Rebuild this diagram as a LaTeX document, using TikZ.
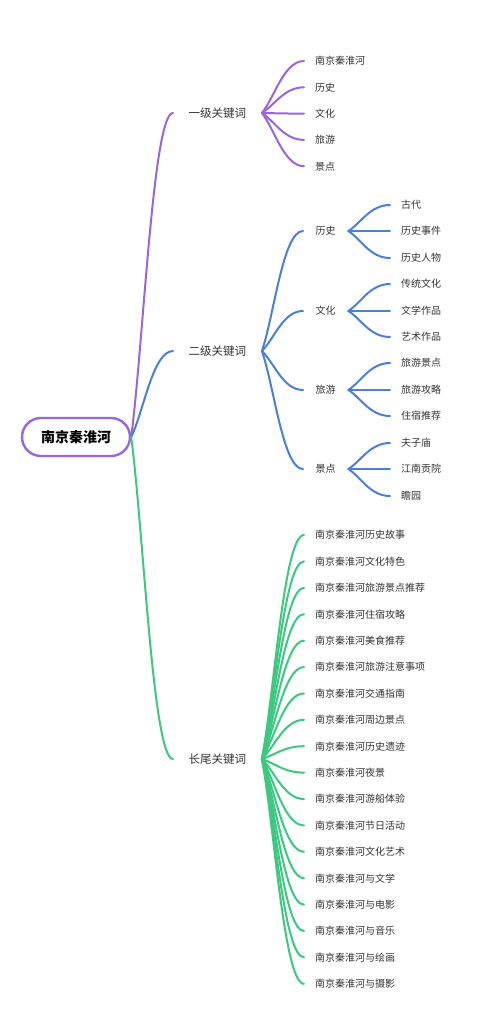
\documentclass[tikz,border=0pt]{standalone}
\usepackage{fontspec}
\setmainfont{Noto Sans CJK SC}
\usetikzlibrary{calc}
\definecolor{cpur}{HTML}{9966E0}
\definecolor{cblu}{HTML}{4A80D8}
\definecolor{cgrn}{HTML}{3CC880}
\definecolor{ctxt}{HTML}{333333}
\newcommand\branchto[3]{\draw[#1] (#2) .. controls ($(#2)!0.3!(#3)$) and ($(#3)+(-20,0)$) .. (#3);}
\begin{document}
\begin{tikzpicture}[x=1pt,y=-1pt,
  rootbox/.style={draw=cpur, line width=2.4pt, fill=white, rounded corners=19pt,
    minimum width=108pt, minimum height=38pt, font=\fontsize{14}{16}\selectfont\bfseries, text=black},
  lone/.style={anchor=west, inner xsep=15.5pt, inner ysep=2pt, font=\fontsize{11.5}{13}\selectfont, text=ctxt},
  mid/.style={anchor=west, inner xsep=12.5pt, inner ysep=2pt, font=\fontsize{10}{12}\selectfont, text=ctxt},
  leaf/.style={anchor=west, inner xsep=11pt, inner ysep=2pt, font=\fontsize{10}{12}\selectfont, text=ctxt},
  pline/.style={draw=cpur, line width=2pt, line cap=round},
  bline/.style={draw=cblu, line width=2pt, line cap=round},
  gline/.style={draw=cgrn, line width=2pt, line cap=round}]
\useasboundingbox[fill=white] (0,0) rectangle (500,1020);

\node[rootbox] (root) at (76,437) {南京秦淮河};

\node[lone] (l1) at (173,113) {一级关键词};
\node[lone] (l2) at (173,351) {二级关键词};
\node[lone] (l3) at (173,759) {长尾关键词};
\branchto{pline}{root.east}{l1.west}
\branchto{bline}{root.east}{l2.west}
\branchto{gline}{root.east}{l3.west}

% level one children
\foreach \t [count=\i from 0] in {南京秦淮河,历史,文化,旅游,景点}{
  \node[leaf] (a\i) at (304,{61+\i*26.3}) {\t};
  \branchto{pline}{l1.east}{a\i.west}
}

% level two
\node[mid] (b1) at (303,231) {历史};
\node[mid] (b2) at (303,311) {文化};
\node[mid] (b3) at (303,390) {旅游};
\node[mid] (b4) at (303,469) {景点};
\foreach \k in {1,2,3,4}{\branchto{bline}{l2.east}{b\k.west}}

\node[leaf] (c11) at (390,205) {古代};
\node[leaf] (c12) at (390,231) {历史事件};
\node[leaf] (c13) at (390,258) {历史人物};
\node[leaf] (c21) at (390,284) {传统文化};
\node[leaf] (c22) at (390,311) {文学作品};
\node[leaf] (c23) at (390,337) {艺术作品};
\node[leaf] (c31) at (390,363) {旅游景点};
\node[leaf] (c32) at (390,390) {旅游攻略};
\node[leaf] (c33) at (390,416) {住宿推荐};
\node[leaf] (c41) at (390,443) {夫子庙};
\node[leaf] (c42) at (390,469) {江南贡院};
\node[leaf] (c43) at (390,496) {瞻园};
\foreach \k in {1,2,3,4}{
  \foreach \j in {1,2,3}{\branchto{bline}{b\k.east}{c\k\j.west}}
}

% long tail
\foreach \t [count=\i from 0] in {南京秦淮河历史故事,南京秦淮河文化特色,南京秦淮河旅游景点推荐,南京秦淮河住宿攻略,南京秦淮河美食推荐,南京秦淮河旅游注意事项,南京秦淮河交通指南,南京秦淮河周边景点,南京秦淮河历史遗迹,南京秦淮河夜景,南京秦淮河游船体验,南京秦淮河节日活动,南京秦淮河文化艺术,南京秦淮河与文学,南京秦淮河与电影,南京秦淮河与音乐,南京秦淮河与绘画,南京秦淮河与摄影}{
  \node[leaf] (t\i) at (304,{535+\i*26.4}) {\t};
  \branchto{gline}{l3.east}{t\i.west}
}
\end{tikzpicture}
\end{document}
